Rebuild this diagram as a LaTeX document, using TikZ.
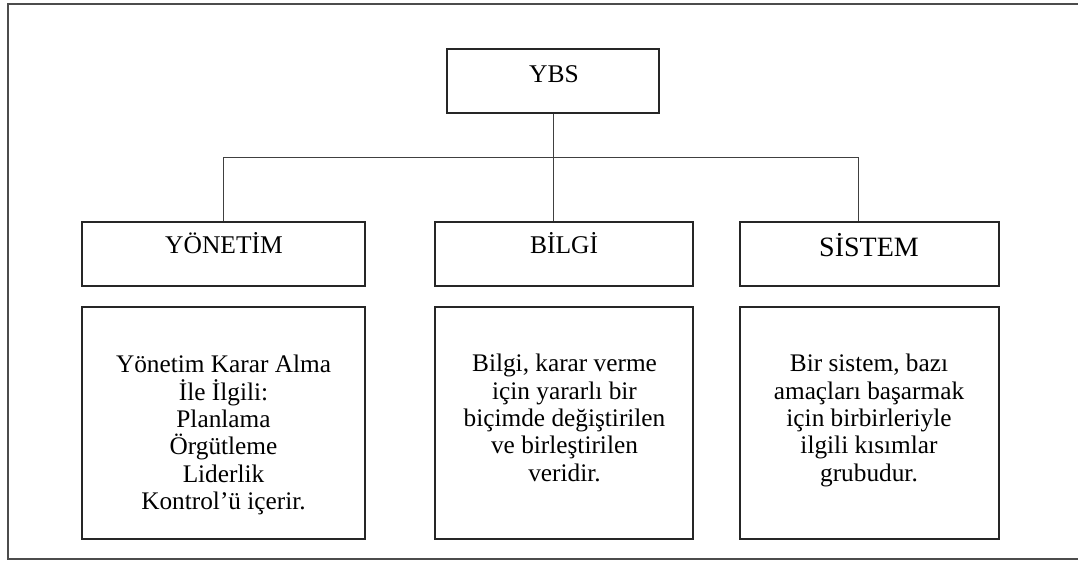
\documentclass[tikz,border=0pt]{standalone}
\usepackage{fontspec}
\setmainfont{Liberation Serif}
\begin{document}
\begin{tikzpicture}[x=1pt,y=-1pt,
  box/.style={draw=black!85, line width=1.1pt, rectangle, inner sep=0pt},
  headbox/.style={box, minimum height=64pt},
  descbox/.style={box, minimum height=232pt},
  head/.style={anchor=base, inner sep=0pt, font=\fontsize{25.5}{30}\selectfont},
  desc/.style={anchor=north, inner sep=0pt, align=center,
               font=\fontsize{25.3}{27.4}\selectfont},
  link/.style={draw=black!75, line width=1pt}]
\useasboundingbox (0,0) rectangle (1078,560);
\clip (0,0) rectangle (1078,560);

% outer frame
\draw[line width=1.2pt, black!70] (8,4) rectangle (1100,559);

% boxes
\node[headbox, minimum width=212pt] (ybs)     at (553,81)    {};
\node[headbox, minimum width=283pt] (yonetim) at (223.5,254) {};
\node[headbox, minimum width=258pt] (bilgi)   at (564,254)   {};
\node[headbox, minimum width=259pt] (sistem)  at (869.5,254) {};
\node[descbox, minimum width=283pt] (dyon)    at (223.5,423) {};
\node[descbox, minimum width=258pt] (dbil)    at (564,423)   {};
\node[descbox, minimum width=259pt] (dsis)    at (869.5,423) {};

% titles
\node[head] (tybs) at (554,82)  {YBS};
\node[head] (tyon) at (224,253) {YÖNETİM};
\node[head] (tbil) at (564,253) {BİLGİ};
\node[head, font=\fontsize{28}{32}\selectfont] (tsis) at (869,256) {SİSTEM};

% descriptions
\node[desc] (xyon) at (223.5,355) {Yönetim Karar Alma\\İle İlgili:\\Planlama\\Örgütleme\\Liderlik\\Kontrol’ü içerir.};
\node[desc] (xbil) at (564.5,354) {Bilgi, karar verme\\için yararlı bir\\biçimde değiştirilen\\ve birleştirilen\\veridir.};
\node[desc] (xsis) at (869,354) {Bir sistem, bazı\\amaçları başarmak\\için birbirleriyle\\ilgili kısımlar\\grubudur.};

% connectors
\coordinate (bus) at (553,157);
\coordinate (stap) at (858,157);
\draw[link] (ybs.south) -- (ybs.south |- bilgi.north);
\draw[link] (yonetim.north) -- (yonetim.north |- bus) -- (stap) -- (stap |- sistem.north);
\end{tikzpicture}
\end{document}
